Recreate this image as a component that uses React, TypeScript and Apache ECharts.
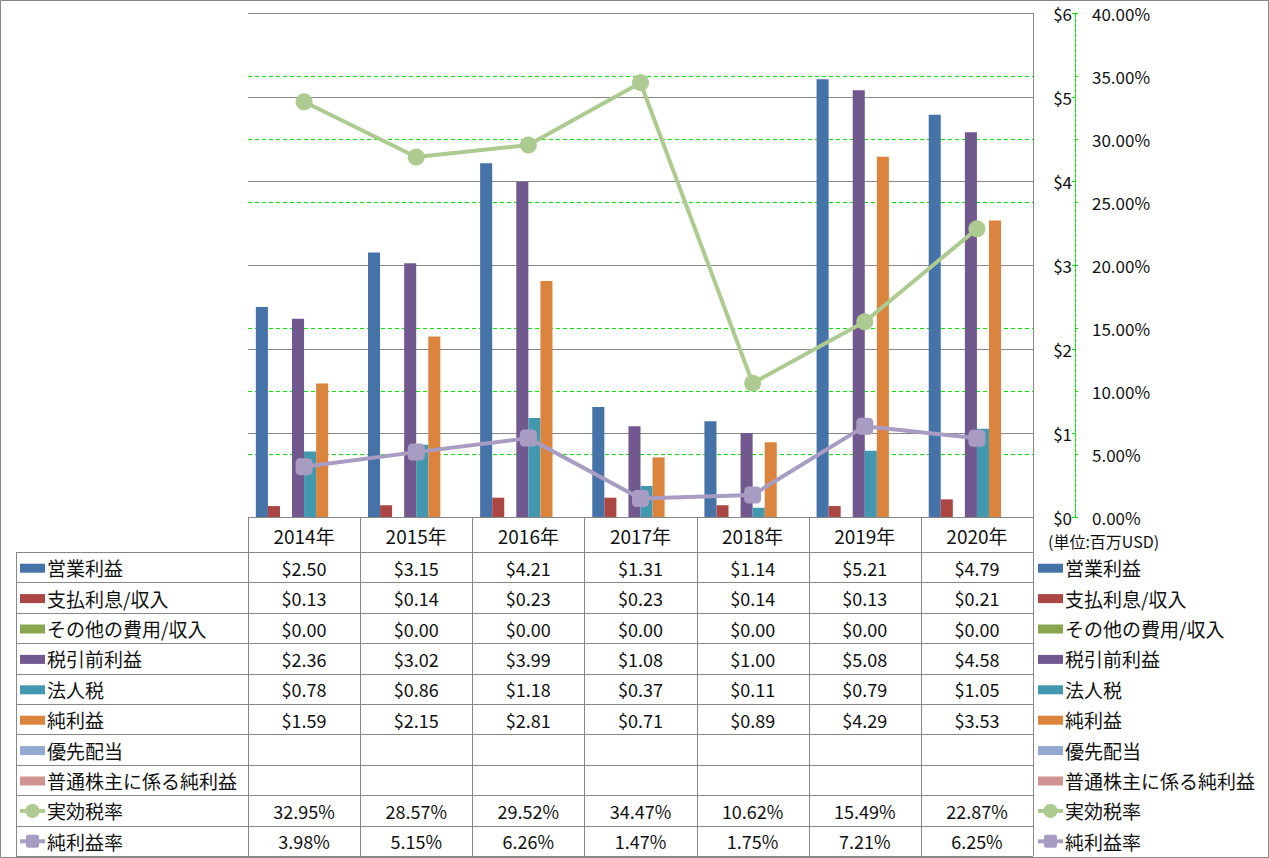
import React, { useEffect, useRef } from "react";
import * as echarts from "echarts";

const years = ["2014年", "2015年", "2016年", "2017年", "2018年", "2019年", "2020年"];
const opIncome = [2.5, 3.15, 4.21, 1.31, 1.14, 5.21, 4.79];
const interest = [0.13, 0.14, 0.23, 0.23, 0.14, 0.13, 0.21];
const otherExp = [0, 0, 0, 0, 0, 0, 0];
const pretax = [2.36, 3.02, 3.99, 1.08, 1.0, 5.08, 4.58];
const incomeTax = [0.78, 0.86, 1.18, 0.37, 0.11, 0.79, 1.05];
const netIncome = [1.59, 2.15, 2.81, 0.71, 0.89, 4.29, 3.53];
const prefDiv: (number | null)[] = [null, null, null, null, null, null, null];
const netToCommon: (number | null)[] = [null, null, null, null, null, null, null];
const effTaxRate = [32.95, 28.57, 29.52, 34.47, 10.62, 15.49, 22.87];
const netMargin = [3.98, 5.15, 6.26, 1.47, 1.75, 7.21, 6.25];

const usdTicks = [0, 6, 1];
const pctTicks = [0, 40, 5];
const unitLabel = "(単位:百万USD)";

type Row = { name: string; kind: "bar" | "circle" | "square"; data: (number | null)[]; color: string; pct?: boolean };

const rows: Row[] = [
  { name: "営業利益", kind: "bar", data: opIncome, color: "#4572A7" },
  { name: "支払利息/収入", kind: "bar", data: interest, color: "#AA4643" },
  { name: "その他の費用/収入", kind: "bar", data: otherExp, color: "#89A54E" },
  { name: "税引前利益", kind: "bar", data: pretax, color: "#71588F" },
  { name: "法人税", kind: "bar", data: incomeTax, color: "#4198AF" },
  { name: "純利益", kind: "bar", data: netIncome, color: "#DB843D" },
  { name: "優先配当", kind: "bar", data: prefDiv, color: "#93A9CF" },
  { name: "普通株主に係る純利益", kind: "bar", data: netToCommon, color: "#D19392" },
  { name: "実効税率", kind: "circle", data: effTaxRate, color: "#ADCA90", pct: true },
  { name: "純利益率", kind: "square", data: netMargin, color: "#A99CC3", pct: true },
];

const FONT = '"Noto Sans CJK JP", "Noto Sans", sans-serif';
const W = 1269;
const H = 858;
const PL = 248;
const PR = 1033;
const PT = 13;
const PB = 517;
const HDR_B = 552;
const TBL_B = 856;
const LEG_L = 16;
const AXIS_X = 1075;
const GRID = "#878787";

function buildGraphics() {
  const g: any[] = [];
  const colW = (PR - PL) / years.length;
  const rowH = (TBL_B - HDR_B) / rows.length;
  const nameFont = `19px ${FONT}`;
  const numFont = `18px ${FONT}`;
  const ln = (x1: number, y1: number, x2: number, y2: number, stroke = GRID) =>
    g.push({ type: "line", silent: true, z: 10, shape: { x1, y1, x2, y2 }, style: { stroke, lineWidth: 1 } });

  g.push({ type: "rect", silent: true, shape: { x: 0.5, y: 0.5, width: W - 1, height: H - 1 }, style: { fill: "none", stroke: GRID, lineWidth: 1 } });
  ln(PR + 0.5, PT, PR + 0.5, PB);
  ln(PL, PB + 0.5, PR, PB + 0.5);
  for (let i = 0; i <= rows.length; i++) {
    const y = Math.round(HDR_B + i * rowH) + 0.5;
    ln(LEG_L, y, PR, y);
  }
  ln(LEG_L + 0.5, HDR_B, LEG_L + 0.5, TBL_B);
  for (let c = 0; c <= years.length; c++) {
    const x = Math.round(PL + c * colW) + 0.5;
    ln(x, PB, x, TBL_B);
  }
  years.forEach((yr, c) => {
    g.push({ type: "text", silent: true, x: PL + (c + 0.5) * colW, y: (PB + HDR_B) / 2 + 1, style: { text: yr, font: nameFont, fill: "#111", align: "center", verticalAlign: "middle" } });
  });
  const swatch = (x: number, y: number, r: Row) => {
    if (r.kind === "bar") {
      g.push({ type: "rect", silent: true, shape: { x, y: y - 4, width: 25, height: 9 }, style: { fill: r.color } });
    } else {
      g.push({ type: "line", silent: true, shape: { x1: x, y1: y, x2: x + 25, y2: y }, style: { stroke: r.color, lineWidth: 4 } });
      if (r.kind === "circle") g.push({ type: "circle", silent: true, shape: { cx: x + 12.5, cy: y, r: 7 }, style: { fill: r.color } });
      else g.push({ type: "rect", silent: true, shape: { x: x + 6, y: y - 6.5, width: 13, height: 13, r: 2 }, style: { fill: r.color } });
    }
  };
  rows.forEach((r, i) => {
    const cy = HDR_B + (i + 0.5) * rowH + 0.5;
    swatch(LEG_L + 4, cy, r);
    g.push({ type: "text", silent: true, x: LEG_L + 31, y: cy, style: { text: r.name, font: nameFont, fill: "#111", align: "left", verticalAlign: "middle" } });
    swatch(PR + 5, cy, r);
    g.push({ type: "text", silent: true, x: PR + 32, y: cy, style: { text: r.name, font: nameFont, fill: "#111", align: "left", verticalAlign: "middle" } });
    r.data.forEach((v, c) => {
      if (v === null || v === undefined) return;
      const t = r.pct ? v.toFixed(2) + "%" : "$" + v.toFixed(2);
      g.push({ type: "text", silent: true, x: PL + (c + 0.5) * colW, y: cy, style: { text: t, font: numFont, fill: "#111", align: "center", verticalAlign: "middle" } });
    });
  });
  g.push({ type: "text", silent: true, x: 1048, y: 541, style: { text: unitLabel, font: `16px ${FONT}`, fill: "#111", align: "left", verticalAlign: "middle" } });
  return g;
}

export default function App() {
  const ref = useRef<HTMLDivElement>(null);
  useEffect(() => {
    document.body.style.margin = "0";
    if (!ref.current) return;
    const chart = echarts.init(ref.current, null, { renderer: "svg" });
    const series: any[] = rows.map((r) => {
      if (r.kind === "bar") {
        return { name: r.name, type: "bar", yAxisIndex: 1, data: r.data, itemStyle: { color: r.color }, barGap: "0%", barCategoryGap: "14%" };
      }
      return {
        name: r.name,
        type: "line",
        yAxisIndex: 0,
        data: r.data,
        z: 5,
        symbol: r.kind === "circle" ? "circle" : "roundRect",
        symbolSize: 17,
        lineStyle: { color: r.color, width: 4 },
        itemStyle: { color: r.color },
      };
    });
    chart.setOption({
      animation: false,
      grid: { left: PL, right: W - PR, top: PT, bottom: H - PB },
      xAxis: {
        type: "category",
        data: years,
        axisLine: { show: false },
        axisTick: { show: false },
        axisLabel: { show: false },
      },
      yAxis: [
        {
          type: "value",
          position: "right",
          offset: AXIS_X - PR,
          min: pctTicks[0],
          max: pctTicks[1],
          interval: pctTicks[2],
          axisLine: { show: true, lineStyle: { color: "#00E000", type: [3, 2] } },
          axisTick: { show: true, length: 3, lineStyle: { color: "#00E000" } },
          axisLabel: { margin: 17, formatter: (v: number) => v.toFixed(2) + "%", color: "#111", fontSize: 17, fontFamily: FONT },
          splitLine: { show: true, lineStyle: { color: "#00E600", width: 1, type: [4, 3] } },
        },
        {
          type: "value",
          position: "right",
          offset: AXIS_X - PR,
          min: usdTicks[0],
          max: usdTicks[1],
          interval: usdTicks[2],
          axisLine: { show: true, lineStyle: { color: "#00E000", type: [3, 2] } },
          axisTick: { show: true, inside: true, length: 3, lineStyle: { color: "#00E000" } },
          axisLabel: { inside: true, margin: 3, formatter: (v: number) => "$" + v, color: "#111", fontSize: 17, fontFamily: FONT },
          splitLine: { show: true, lineStyle: { color: GRID, width: 1 } },
        },
      ],
      series,
      graphic: buildGraphics(),
    });
    return () => chart.dispose();
  }, []);
  return <div ref={ref} style={{ width: W, height: H, background: "#fff" }} />;
}
